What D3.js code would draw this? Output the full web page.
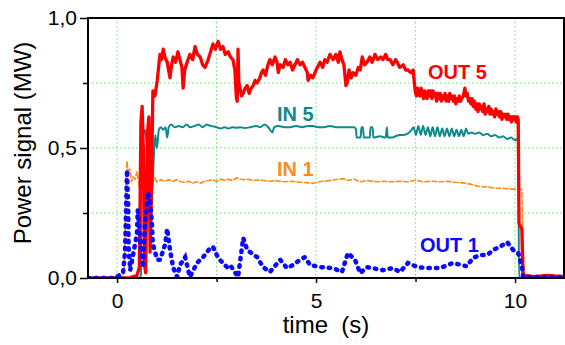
<!DOCTYPE html>
<html>
<head>
<meta charset="utf-8">
<script src="https://cdn.jsdelivr.net/npm/d3@7"></script>
<style>
  body { margin: 0; background: #fff; }
  svg { font-family: "Liberation Sans", Arial, sans-serif; }
</style>
</head>
<body>
<svg id="chart" width="565" height="345"></svg>
<script>
// time (s), power (MW) pairs
const out5 = [[-0.73,0],[0.3,0],[0.5,0.01],[0.56,0.04],[0.6,0.6],[0.63,0.66],[0.66,0.5],[0.69,0.05],[0.72,0.02],[0.76,0.55],[0.8,0.62],[0.83,0.1],[0.86,0.3],[0.9,0.72],[0.95,0.7],[1.01,0.76],[1.05,0.82],[1.08,0.86],[1.12,0.84],[1.16,0.88],[1.2,0.85],[1.26,0.83],[1.33,0.77],[1.37,0.82],[1.41,0.85],[1.47,0.83],[1.53,0.87],[1.58,0.84],[1.63,0.81],[1.66,0.73],[1.7,0.8],[1.76,0.83],[1.83,0.86],[1.9,0.84],[1.96,0.89],[2.02,0.86],[2.09,0.85],[2.15,0.82],[2.21,0.81],[2.29,0.84],[2.35,0.87],[2.41,0.9],[2.47,0.88],[2.54,0.91],[2.6,0.88],[2.66,0.89],[2.72,0.86],[2.79,0.87],[2.85,0.85],[2.91,0.84],[2.96,0.8],[3.0,0.69],[3.02,0.68],[3.04,0.88],[3.06,0.75],[3.09,0.73],[3.13,0.7],[3.17,0.71],[3.22,0.73],[3.27,0.74],[3.32,0.71],[3.37,0.73],[3.42,0.74],[3.47,0.76],[3.52,0.75],[3.59,0.77],[3.63,0.79],[3.67,0.8],[3.73,0.78],[3.79,0.82],[3.84,0.84],[3.9,0.82],[3.97,0.85],[4.02,0.83],[4.05,0.79],[4.1,0.82],[4.17,0.81],[4.23,0.84],[4.29,0.82],[4.35,0.83],[4.41,0.8],[4.47,0.82],[4.53,0.84],[4.6,0.82],[4.66,0.83],[4.72,0.81],[4.78,0.79],[4.8,0.76],[4.86,0.78],[4.92,0.77],[5.0,0.8],[5.1,0.83],[5.17,0.81],[5.22,0.84],[5.28,0.83],[5.35,0.86],[5.43,0.84],[5.5,0.86],[5.56,0.83],[5.6,0.87],[5.65,0.84],[5.7,0.82],[5.75,0.74],[5.78,0.75],[5.83,0.8],[5.88,0.77],[5.93,0.79],[6.0,0.78],[6.06,0.81],[6.11,0.8],[6.16,0.85],[6.22,0.82],[6.28,0.83],[6.35,0.85],[6.41,0.83],[6.48,0.86],[6.55,0.84],[6.62,0.85],[6.68,0.84],[6.75,0.86],[6.8,0.84],[6.86,0.84],[6.93,0.82],[7.0,0.84],[7.04,0.83],[7.1,0.81],[7.19,0.82],[7.25,0.8],[7.31,0.8],[7.38,0.79],[7.44,0.8],[7.49,0.72],[7.52,0.7],[7.55,0.73],[7.58,0.71],[7.61,0.7],[7.64,0.73],[7.67,0.71],[7.7,0.69],[7.73,0.72],[7.76,0.7],[7.79,0.69],[7.82,0.72],[7.85,0.7],[7.88,0.72],[7.91,0.69],[7.94,0.72],[7.97,0.7],[8.0,0.71],[8.03,0.68],[8.06,0.71],[8.09,0.69],[8.12,0.71],[8.15,0.68],[8.18,0.7],[8.21,0.69],[8.24,0.71],[8.27,0.68],[8.3,0.7],[8.33,0.68],[8.36,0.71],[8.39,0.69],[8.42,0.7],[8.45,0.68],[8.48,0.7],[8.51,0.67],[8.54,0.69],[8.57,0.68],[8.6,0.7],[8.63,0.68],[8.66,0.69],[8.7,0.7],[8.74,0.73],[8.77,0.7],[8.8,0.71],[8.83,0.68],[8.86,0.69],[8.89,0.67],[8.92,0.69],[8.95,0.66],[8.98,0.68],[9.01,0.65],[9.04,0.67],[9.07,0.64],[9.1,0.67],[9.13,0.65],[9.16,0.66],[9.19,0.64],[9.22,0.67],[9.25,0.63],[9.28,0.65],[9.31,0.64],[9.34,0.66],[9.37,0.63],[9.4,0.65],[9.43,0.63],[9.46,0.64],[9.49,0.62],[9.52,0.65],[9.55,0.63],[9.58,0.64],[9.61,0.62],[9.64,0.64],[9.67,0.61],[9.7,0.63],[9.73,0.62],[9.76,0.63],[9.79,0.61],[9.82,0.63],[9.85,0.61],[9.88,0.62],[9.91,0.6],[9.94,0.62],[9.97,0.61],[10.0,0.62],[10.03,0.6],[10.06,0.62],[10.08,0.61],[10.1,0.21],[10.13,0.2],[10.17,0.19],[10.2,0.01],[10.5,0.005],[10.8,0.01],[11.23,0.005]];

const in5 = [[-0.73,0],[0.55,0],[0.6,0.01],[0.62,0.58],[0.66,0.55],[0.7,0.57],[0.75,0.52],[0.8,0.56],[0.85,0.4],[0.88,0.33],[0.92,0.45],[0.96,0.55],[1.0,0.5],[1.05,0.57],[1.1,0.58],[1.16,0.57],[1.22,0.58],[1.26,0.54],[1.3,0.58],[1.36,0.59],[1.45,0.58],[1.55,0.585],[1.65,0.58],[1.75,0.59],[1.83,0.58],[1.95,0.585],[2.05,0.59],[2.15,0.58],[2.25,0.59],[2.35,0.585],[2.5,0.58],[2.6,0.575],[2.7,0.58],[2.8,0.575],[2.9,0.58],[3.0,0.578],[3.1,0.58],[3.2,0.577],[3.35,0.58],[3.5,0.585],[3.6,0.58],[3.7,0.59],[3.8,0.58],[3.9,0.56],[3.95,0.58],[4.05,0.585],[4.2,0.58],[4.35,0.58],[4.5,0.585],[4.65,0.58],[4.8,0.585],[4.92,0.585],[5.05,0.58],[5.2,0.58],[5.35,0.585],[5.5,0.58],[5.65,0.58],[5.8,0.58],[5.95,0.58],[6.0,0.575],[6.02,0.54],[6.12,0.54],[6.14,0.58],[6.18,0.58],[6.2,0.54],[6.35,0.54],[6.37,0.58],[6.42,0.58],[6.44,0.54],[6.6,0.545],[6.75,0.54],[6.78,0.58],[6.8,0.54],[6.9,0.54],[7.0,0.545],[7.1,0.55],[7.2,0.55],[7.3,0.555],[7.4,0.57],[7.45,0.58],[7.51,0.55],[7.57,0.585],[7.63,0.55],[7.69,0.585],[7.75,0.55],[7.81,0.58],[7.87,0.545],[7.93,0.58],[7.99,0.545],[8.05,0.58],[8.11,0.545],[8.17,0.575],[8.23,0.545],[8.29,0.575],[8.35,0.545],[8.41,0.575],[8.47,0.545],[8.53,0.57],[8.59,0.545],[8.65,0.57],[8.71,0.545],[8.77,0.575],[8.82,0.555],[8.9,0.56],[9.0,0.555],[9.1,0.56],[9.2,0.55],[9.3,0.555],[9.4,0.545],[9.5,0.55],[9.6,0.54],[9.7,0.545],[9.8,0.535],[9.9,0.54],[10.0,0.53],[10.05,0.535],[10.08,0.52],[10.1,0],[11.23,0]];

const in1 = [[-0.73,0],[0.1,0],[0.18,0.02],[0.22,0.35],[0.25,0.45],[0.28,0.4],[0.32,0.42],[0.36,0.37],[0.4,0.39],[0.45,0.38],[0.5,0.41],[0.55,0.36],[0.6,0.38],[0.65,0.35],[0.7,0.42],[0.75,0.37],[0.8,0.38],[0.85,0.36],[0.9,0.37],[0.95,0.385],[1.0,0.37],[1.1,0.378],[1.2,0.372],[1.3,0.378],[1.4,0.372],[1.5,0.378],[1.6,0.37],[1.7,0.368],[1.8,0.372],[1.9,0.365],[2.0,0.37],[2.1,0.365],[2.2,0.372],[2.3,0.375],[2.4,0.378],[2.5,0.372],[2.6,0.38],[2.7,0.376],[2.8,0.38],[2.9,0.375],[3.0,0.385],[3.1,0.38],[3.2,0.378],[3.3,0.38],[3.4,0.375],[3.6,0.377],[3.8,0.372],[4.0,0.374],[4.2,0.37],[4.4,0.372],[4.6,0.368],[4.8,0.366],[4.92,0.364],[5.05,0.37],[5.2,0.372],[5.4,0.376],[5.55,0.38],[5.68,0.382],[5.8,0.375],[5.95,0.38],[6.1,0.37],[6.3,0.375],[6.5,0.37],[6.7,0.372],[6.9,0.37],[7.1,0.372],[7.3,0.37],[7.5,0.376],[7.7,0.37],[7.9,0.372],[8.1,0.37],[8.3,0.372],[8.5,0.368],[8.7,0.366],[8.9,0.36],[9.1,0.352],[9.3,0.35],[9.5,0.346],[9.7,0.345],[9.9,0.342],[10.1,0.342],[10.17,0.34],[10.19,0.21],[10.22,0.05],[10.25,0],[11.23,0]];

const out1 = [[-0.73,0],[-0.1,0],[0,0.005],[0.15,0.02],[0.2,0.1],[0.25,0.415],[0.28,0.27],[0.29,0.12],[0.33,0.03],[0.38,0.07],[0.5,0.17],[0.52,0.26],[0.58,0.146],[0.65,0.04],[0.7,0.2],[0.78,0.33],[0.83,0.3],[0.88,0.2],[0.9,0.13],[1.01,0.07],[1.08,0.07],[1.21,0.13],[1.26,0.19],[1.33,0.108],[1.41,0.04],[1.51,0.004],[1.58,0.05],[1.71,0.08],[1.83,0.004],[2.01,0.058],[2.16,0.08],[2.34,0.115],[2.41,0.12],[2.54,0.077],[2.76,0.042],[2.84,0.05],[3.04,0.004],[3.17,0.154],[3.27,0.108],[3.52,0.08],[3.67,0.042],[3.84,0.023],[4.1,0.07],[4.27,0.038],[4.42,0.05],[4.6,0.07],[4.72,0.08],[4.85,0.05],[5.1,0.042],[5.43,0.038],[5.65,0.023],[5.8,0.096],[5.98,0.07],[6.11,0.019],[6.28,0.042],[6.68,0.03],[6.93,0.038],[7.11,0.023],[7.31,0.058],[7.54,0.042],[7.79,0.038],[8.12,0.038],[8.44,0.058],[8.79,0.045],[8.94,0.077],[9.12,0.088],[9.3,0.088],[9.45,0.108],[9.62,0.12],[9.8,0.138],[9.95,0.108],[10.08,0.096],[10.18,0.038],[10.2,0.004],[11.23,0.004]];

const seriesNames = ["IN 1", "IN 5", "OUT 5", "OUT 1"];
const seriesColors = ["#ff8c1a", "#0f8a8a", "#ff0000", "#0a0aff"];
const labelPos = [[4.02, 0.392], [4.02, 0.604], [7.81, 0.765], [7.61, 0.1]];

const yTicks = [0, 0.5, 1];
const yMinor = [0.25, 0.75];
const xTicks = [0, 5, 10];
const xMinor = [2.5, 7.5];

const margin = {top: 18, right: 1, bottom: 67, left: 88};
const width = 565 - margin.left - margin.right;
const height = 345 - margin.top - margin.bottom;

const svg = d3.select("#chart");
const g = svg.append("g").attr("transform", "translate(" + margin.left + "," + margin.top + ")");

const x = d3.scaleLinear().domain([-0.73, 11.23]).range([0, width]);
const y = d3.scaleLinear().domain([0, 1]).range([height, 0]);
const fmt = d => d3.format(".1f")(d).replace(".", ",");

// grid
const gridStyle = sel => sel.attr("stroke", "#5fe85f").attr("stroke-width", 1).attr("stroke-dasharray", "1.5,2.5");
g.selectAll(".vgrid").data(xTicks.concat(xMinor)).enter().append("line")
  .attr("x1", d => x(d)).attr("x2", d => x(d)).attr("y1", 0).attr("y2", height).call(gridStyle);
g.selectAll(".hgrid").data(yMinor.concat([0.5])).enter().append("line")
  .attr("x1", 0).attr("x2", width).attr("y1", d => y(d)).attr("y2", d => y(d)).call(gridStyle);

// lines
g.append("clipPath").attr("id", "clip").append("rect").attr("width", width).attr("height", height + 2).attr("y", -1);
const line = d3.line().x(d => x(d[0])).y(d => y(d[1]));
const plot = g.append("g").attr("clip-path", "url(#clip)");

plot.append("path").datum(in1).attr("d", line).attr("fill", "none")
  .attr("stroke", seriesColors[0]).attr("stroke-width", 1.6).attr("stroke-dasharray", "6,1.2");
plot.append("path").datum(in5).attr("d", line.curve(d3.curveMonotoneX)).attr("fill", "none")
  .attr("stroke", seriesColors[1]).attr("stroke-width", 2);
line.curve(d3.curveLinear);
plot.append("path").datum(out5).attr("d", line).attr("fill", "none")
  .attr("stroke", seriesColors[2]).attr("stroke-width", 3.3).attr("stroke-linejoin", "round");
plot.append("path").datum(out1).attr("d", line).attr("fill", "none")
  .attr("stroke", seriesColors[3]).attr("stroke-width", 4.5)
  .attr("stroke-linecap", "round").attr("stroke-dasharray", "1.5,6");

// frame
g.append("rect").attr("width", width).attr("height", height)
  .attr("fill", "none").attr("stroke", "#000").attr("stroke-width", 2);

// axes
const yAxis = g.append("g").call(d3.axisLeft(y).tickValues(yTicks).tickFormat(fmt).tickSize(8).tickPadding(3));
g.append("g").call(d3.axisLeft(y).tickValues(yMinor).tickFormat("").tickSize(5));
const xAxis = g.append("g").attr("transform", "translate(0," + height + ")")
  .call(d3.axisBottom(x).tickValues(xTicks).tickSize(5).tickPadding(10));
g.append("g").attr("transform", "translate(0," + height + ")")
  .call(d3.axisBottom(x).tickValues(xMinor).tickFormat("").tickSize(4));
g.selectAll(".domain").remove();
g.selectAll(".tick line").attr("stroke", "#000").attr("stroke-width", 1.5);
yAxis.selectAll("text").attr("font-size", 21).attr("fill", "#000").attr("font-family", "Liberation Sans, Arial, sans-serif");
xAxis.selectAll("text").attr("font-size", 21).attr("fill", "#000").attr("font-family", "Liberation Sans, Arial, sans-serif");

// series labels
g.selectAll(".lbl").data(seriesNames).enter().append("text")
  .attr("x", (d, i) => x(labelPos[i][0])).attr("y", (d, i) => y(labelPos[i][1]))
  .attr("fill", (d, i) => seriesColors[i])
  .attr("font-size", 20).attr("font-weight", "bold").text(d => d);

// axis titles
svg.append("text").attr("x", margin.left + width / 2).attr("y", 333)
  .attr("text-anchor", "middle").attr("font-size", 24).style("white-space", "pre").text("time  (s)");
svg.append("text").attr("transform", "translate(31," + 143 + ") rotate(-90)")
  .attr("text-anchor", "middle").attr("font-size", 24).text("Power signal (MW)");
</script>
</body>
</html>
